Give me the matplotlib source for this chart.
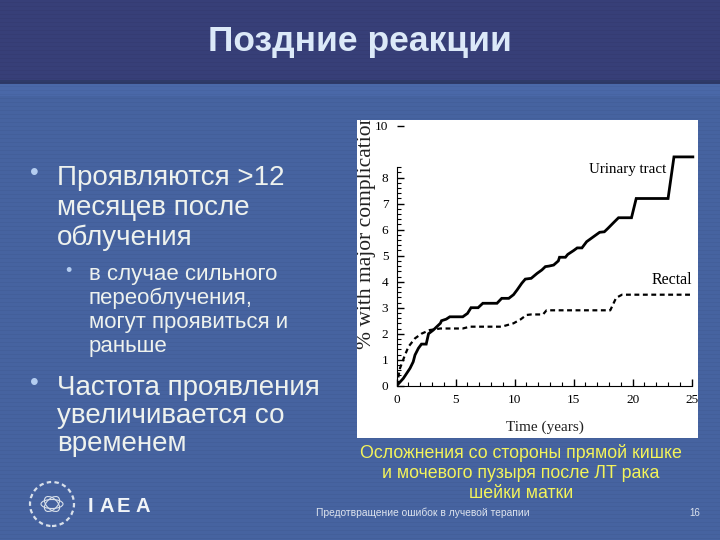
import numpy as np
import matplotlib.pyplot as plt
from matplotlib.patches import Rectangle, Ellipse

# Cumulative complication curves (years, %)
urinary_years = [0, 0.56, 1.13, 1.4, 1.55, 1.84, 2.1, 2.5, 2.7, 3.1, 3.7, 3.8, 4.2, 4.5,
                 5.6, 6.0, 6.3, 6.9, 7.3, 8.5, 8.9, 9.5, 9.9, 10.2, 10.6, 10.9, 11.4,
                 11.9, 12.3, 12.6, 12.9, 13.3, 13.7, 13.8, 14.3, 14.5, 15.0, 15.3, 15.7,
                 16.1, 16.8, 17.2, 17.6, 17.9, 18.4, 18.8, 19.9, 20.3, 23.0, 23.5, 25.1]
urinary_pct = [0, 0.28, 0.67, 0.92, 1.18, 1.44, 1.6, 1.6, 2.0, 2.14, 2.4, 2.5, 2.56, 2.65,
               2.65, 2.78, 3.0, 3.0, 3.17, 3.17, 3.36, 3.36, 3.5, 3.68, 3.94, 4.1, 4.13,
               4.32, 4.45, 4.58, 4.6, 4.64, 4.8, 4.94, 4.94, 5.05, 5.2, 5.3, 5.3,
               5.54, 5.77, 5.9, 5.92, 6.05, 6.28, 6.46, 6.46, 7.2, 7.2, 8.8, 8.8]

rectal_years = [0, 0.28, 0.7, 1.0, 1.55, 2.1, 2.8, 3.7, 5.6, 6.2, 8.9, 9.9, 10.5, 11.0,
                11.4, 12.4, 12.7, 18.1, 18.6, 19.1, 25.1]
rectal_pct = [0, 0.67, 1.18, 1.5, 1.82, 2.0, 2.14, 2.2, 2.2, 2.27, 2.27, 2.4, 2.55, 2.72,
              2.74, 2.74, 2.9, 2.9, 3.38, 3.5, 3.5]

x_ticks = [0, 5, 10, 15, 20, 25]
y_ticks = [0, 1, 2, 3, 4, 5, 6, 7, 8, 10]

title = 'Поздние реакции'
bullet1 = ['Проявляются >12', 'месяцев после', 'облучения']
sub_bullet = ['в случае сильного', 'переоблучения,', 'могут проявиться и', 'раньше']
bullet2 = ['Частота проявления', 'увеличивается со', 'временем']
caption = ['Осложнения со стороны прямой кишке', 'и мочевого пузыря после ЛТ рака',
           'шейки матки']
footer = 'Предотвращение ошибок в лучевой терапии'
page = '16'

W, H = 720, 540
sans = 'Liberation Sans'
serif = 'Liberation Serif'


def fx(x):
    return x / W


def fy(y):
    return 1 - y / H


def lines(x, y0, step, rows, **kw):
    for i, row in enumerate(rows):
        fig.text(fx(x), fy(y0 + i * step), row, va='baseline', **kw)


fig = plt.figure(figsize=(7.2, 5.4), dpi=100)
fig.patch.set_facecolor('#4663a0')

# slide background: dark title band on top of lighter blue
fig.patches.append(Rectangle((0, fy(80)), 1, 80 / H, transform=fig.transFigure,
                             facecolor='#373f78', edgecolor='none', zorder=0))
fig.patches.append(Rectangle((0, fy(84)), 1, 4 / H, transform=fig.transFigure,
                             facecolor='#2e3a68', edgecolor='none', zorder=0))
fig.patches.append(Rectangle((0, fy(96)), 1, 12 / H, transform=fig.transFigure,
                             facecolor='#4a68a8', edgecolor='none', zorder=0))
# faint horizontal scan stripes
for yy in np.arange(2, 540, 4):
    fig.patches.append(Rectangle((0, fy(yy + 1)), 1, 1 / H, transform=fig.transFigure,
                                 facecolor='black', alpha=0.035, edgecolor='none',
                                 zorder=0))

fig.text(0.5, fy(42), title, ha='center', va='center', fontsize=25.5, fontweight='bold',
         color='#dce9f8', family=sans)

# left column text
txt = dict(color='#eef2ee', family=sans, ha='left')
fig.text(fx(30), fy(180), '•', fontsize=18, color='#b4cdf0', va='baseline', family=sans)
lines(57, 185, 30, bullet1, fontsize=20, **txt)
fig.text(fx(65), fy(276), '•', fontsize=13, color='#b4cdf0', va='baseline', family=sans)
lines(89, 280, 24, sub_bullet, fontsize=16, **txt)
fig.text(fx(30), fy(390), '•', fontsize=18, color='#b4cdf0', va='baseline', family=sans)
lines(57, 395, 28, bullet2, fontsize=20, **txt)

# white box holding the scanned chart
box = Rectangle((fx(357), fy(438)), 341 / W, 318 / H, transform=fig.transFigure,
                facecolor='white', edgecolor='none', zorder=1)
fig.patches.append(box)

ax = fig.add_axes([fx(396.7), fy(385.7), 298.5 / W, 265.2 / H])
ax.set_facecolor('none')
ax.set_zorder(2)
ax.plot(urinary_years, urinary_pct, color='black', lw=2.0, solid_joinstyle='miter')
ax.plot(rectal_years, rectal_pct, color='black', lw=1.6, dashes=(2.2, 1.6))
ax.set_xlim(0, 25.3)
ax.set_ylim(0, 10.2)
ax.set_xticks(x_ticks)
ax.set_xticks(range(0, 26), minor=True)
ax.set_yticks(y_ticks)
ax.set_yticks(np.arange(0, 8.41, 0.2), minor=True)
for s in ['top', 'right']:
    ax.spines[s].set_visible(False)
ax.spines['left'].set_bounds(0, 8.4)
ax.spines['bottom'].set_bounds(0, 25)
ax.tick_params(direction='in', length=5, width=1, labelsize=9.5, pad=6)
ax.tick_params(which='minor', direction='in', length=3, width=0.8)
for lbl in ax.get_xticklabels() + ax.get_yticklabels():
    lbl.set_family(serif)
ax.text(16.3, 8.3, 'Urinary tract', family=serif, fontsize=10.8, va='center')
ax.text(21.6, 4.06, 'Rectal', family=serif, fontsize=11.5, va='center')

ylab = fig.text(fx(367), fy(349), '% with major complications', rotation=90,
                ha='center', va='bottom', family=serif, fontsize=15.5,
                color='#222222', zorder=3)
ylab.set_clip_path(box)
fig.text(fx(545), fy(427), 'Time (years)', ha='center', va='center',
         family=serif, fontsize=11, color='#222222', zorder=3)

# caption under the chart
for i, row in enumerate(caption):
    fig.text(fx(521), fy(458 + i * 20), row, ha='center', va='baseline', fontsize=12.8,
             color='#f4f45a', family=sans)

# footer
fig.text(fx(316), fy(513), footer, fontsize=7.4, color='#dde3ee', va='center', family=sans)
fig.text(fx(689), fy(513), page, fontsize=7, color='#dde3ee', va='center', family=sans)
for letter, lx in zip('IAEA', [88, 99, 117, 135]):
    fig.text(fx(lx), fy(512), letter, fontsize=14.5, fontweight='bold', color='#f0f4f8',
             va='baseline', family=sans)
# simple emblem: atom orbits inside laurel-like ring
for ang in (0, 60, 120):
    fig.patches.append(Ellipse((fx(52), fy(504)), 22 / W, 9 / H, angle=ang,
                               transform=fig.transFigure, facecolor='none',
                               edgecolor='#d8e0ea', lw=0.8, zorder=2))
fig.patches.append(Ellipse((fx(52), fy(504)), 44 / W, 44 / H, transform=fig.transFigure,
                           facecolor='none', edgecolor='#d8e0ea', lw=1.6, ls=(0, (2, 1.5)),
                           zorder=2))

fig.savefig('out.png', dpi=100, facecolor=fig.get_facecolor())
